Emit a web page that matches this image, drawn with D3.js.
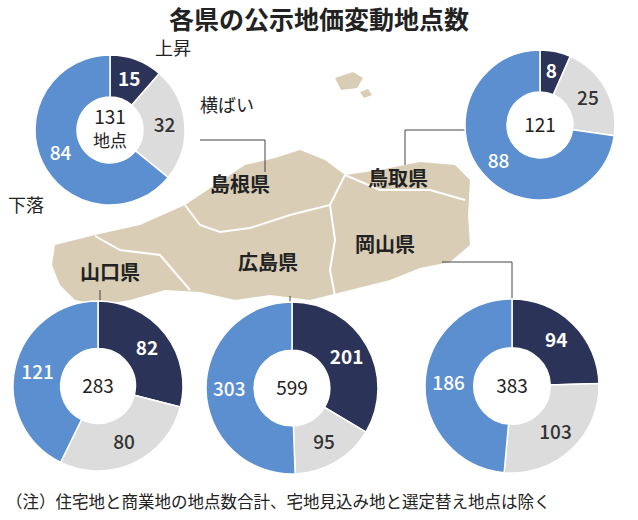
<!DOCTYPE html><html><head><meta charset="utf-8">
<script src="https://cdn.jsdelivr.net/npm/d3@7"></script>
<style>body{margin:0;background:#fff}text{font-family:"Noto Sans CJK JP","Noto Sans",sans-serif}</style></head><body>
<svg id="c" width="638" height="520"></svg>
<script>
const prefectures=["島根県","鳥取県","山口県","広島県","岡山県"];
const rising=[15,8,82,201,94];
const flat=[32,25,80,95,103];
const falling=[84,88,121,303,186];
const totals=[131,121,283,599,383];
const colors=["#2c3358","#dcdcdc","#5b8fd0"];
const labelColors=["#fff","#333","#fff"];
const layout=[{x:110,y:130,r:75},{x:540,y:125,r:75},{x:98,y:386,r:85},{x:292,y:388,r:86},{x:512,y:386,r:87}];
const s=d3.select("#c");
s.append("text").attr("x",319).attr("y",29).attr("text-anchor","middle").attr("font-size",25).attr("font-weight",700).attr("fill","#222").text("各県の公示地価変動地点数");
const g=s.append("g");
g.append("path").attr("d","M335,78 l18,-6 l10,6 l-6,10 l-16,2 z M360,92 l8,-3 l4,6 l-8,3z").attr("fill","#d9cdb5");
g.append("path").attr("d","M55,245 L95,235 L140,225 L185,205 L215,185 L245,165 L275,158 L300,150 L325,160 L345,175 L380,170 L420,162 L455,165 L470,180 L468,215 L470,245 L450,262 L420,268 L390,280 L350,290 L310,300 L270,295 L235,300 L200,292 L165,290 L130,300 L100,305 L75,300 L60,285 L52,265 Z").attr("fill","#d9cdb5");
const lines=["M95,236 L120,250 L160,255 L190,290","M185,205 L200,225 L220,232 L250,228 L290,215 L330,205 L340,185 L345,175","M330,205 L335,240 L330,270 L335,296","M345,175 L380,190 L430,190 L465,200"];
lines.forEach(d=>g.append("path").attr("d",d).attr("fill","none").attr("stroke","#fff").attr("stroke-width",2));
const pl=[[240,192],[398,186],[110,280],[268,270],[385,252]];
prefectures.forEach((p,i)=>s.append("text").attr("x",pl[i][0]).attr("y",pl[i][1]).attr("text-anchor","middle").attr("font-size",20).attr("font-weight",700).attr("fill","#222").text(p));
["M200,140 H265 V172","M470,130 H405 V165","M100,290 V301","M290,296 V302","M442,262 H512 V299"].forEach(d=>s.append("path").attr("d",d).attr("fill","none").attr("stroke","#444").attr("stroke-width",1));
const pie=d3.pie().sort(null);
layout.forEach((L,i)=>{
  const vals=[rising[i],flat[i],falling[i]];
  const arc=d3.arc().innerRadius(L.r*0.44).outerRadius(L.r);
  const la=d3.arc().innerRadius(L.r*0.73).outerRadius(L.r*0.73);
  const gg=s.append("g").attr("transform",`translate(${L.x},${L.y})`);
  const arcs=pie(vals);
  gg.selectAll("path").data(arcs).join("path").attr("d",arc).attr("fill",(d,j)=>colors[j]).attr("stroke","#fff").attr("stroke-width",1.5);
  gg.selectAll("text.v").data(arcs).join("text").attr("class","v").attr("transform",d=>`translate(${la.centroid(d)})`).attr("text-anchor","middle").attr("dy","0.36em").attr("font-size",19).attr("font-weight",(d,j)=>j===0?700:500).attr("fill",(d,j)=>labelColors[j]).text(d=>d.data);
  gg.append("text").attr("text-anchor","middle").attr("dy",i===0?"-0.3em":"0.36em").attr("font-size",19).attr("fill","#222").text(totals[i]);
  if(i===0) gg.append("text").attr("text-anchor","middle").attr("dy","1.0em").attr("font-size",17).attr("fill","#222").text("地点");
});
s.append("text").attr("x",155).attr("y",55).attr("font-size",18).attr("fill","#222").text("上昇");
s.append("text").attr("x",200).attr("y",112).attr("font-size",18).attr("fill","#222").text("横ばい");
s.append("text").attr("x",8).attr("y",212).attr("font-size",18).attr("fill","#222").text("下落");
s.append("text").attr("x",6).attr("y",508).attr("font-size",16.5).attr("fill","#222").text("（注）住宅地と商業地の地点数合計、宅地見込み地と選定替え地点は除く");
</script></body></html>
